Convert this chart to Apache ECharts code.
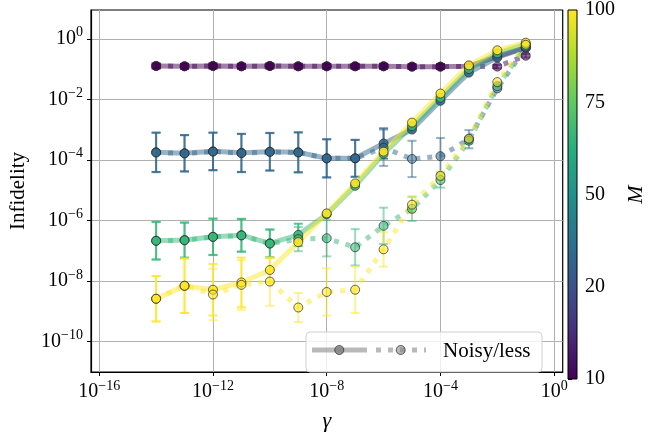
<!DOCTYPE html>
<html><head><meta charset="utf-8">
<script src="https://cdn.jsdelivr.net/npm/echarts@6/dist/echarts.min.js"></script>
<style>html,body{margin:0;padding:0;background:#fff}#c{width:648px;height:437px}</style>
</head><body><div id="c"></div>
<script>
// gamma values (exponents of 10)
const gammaExp = [-14,-13,-12,-11,-10,-9,-8,-7,-6,-5,-4,-3,-2,-1];
const xTicks = [-16,-12,-8,-4,0];
const yTicks = [-10,-8,-6,-4,-2,0];
const mLevels = [10,20,50,100];
const cbarTicks = [10,20,50,75,100];

// Infidelity, noisy (solid) and noiseless (dotted), per M
const noisyM10 = [0.126,0.123,0.126,0.123,0.126,0.123,0.123,0.123,0.123,0.120,0.120,0.123,0.263,0.513];
const lessM10  = [0.126,0.123,0.126,0.123,0.126,0.123,0.123,0.123,0.123,0.120,0.120,0.123,0.120,0.275];
const noisyM20 = [1.78e-4,1.66e-4,1.91e-4,1.70e-4,1.86e-4,1.78e-4,1.12e-4,1.12e-4,3.47e-4,1.0e-3,8.9e-3,7.6e-2,0.24,0.51];
const lessM20  = [1.74e-4,1.62e-4,1.86e-4,1.66e-4,1.82e-4,1.74e-4,1.12e-4,1.12e-4,2.5e-4,1.07e-4,1.32e-4,4.8e-4,2.3e-2,0.50];
const noisyM50 = [2.14e-7,2.24e-7,2.88e-7,3.24e-7,1.74e-7,3.31e-7,1.58e-6,1.38e-5,1.58e-4,1.29e-3,1.12e-2,0.10,0.33,0.66];
const lessM50  = [2.09e-7,2.19e-7,2.82e-7,3.16e-7,1.70e-7,2.40e-7,2.57e-7,1.29e-7,6.6e-7,2.4e-6,2.14e-5,4.27e-4,2.7e-2,0.56];
const noisyM100 = [2.57e-9,6.9e-9,5.1e-9,8.9e-9,2.29e-8,1.91e-7,1.70e-6,1.66e-5,1.86e-4,1.70e-3,1.55e-2,0.132,0.417,0.741];
const lessM100  = [2.57e-9,6.9e-9,3.55e-9,7.4e-9,9.5e-9,1.32e-9,4.3e-9,5.1e-9,1.10e-7,3.3e-6,2.95e-5,5.0e-4,3.7e-2,0.63];

// error bar half-widths in decades
const errNoisyM10 = [0.08,0.08,0.08,0.08,0.08,0.08,0.08,0.08,0.08,0.08,0.08,0.06,0,0];
const errLessM10  = [0.08,0.08,0.08,0.08,0.08,0.08,0.08,0.08,0.08,0.08,0.08,0.06,0.06,0.06];
const errNoisyM20 = [0.65,0.6,0.62,0.63,0.62,0.66,0.63,0.61,0.5,0,0,0,0,0];
const errLessM20  = [0.65,0.6,0.62,0.63,0.62,0.66,0.63,0.61,0.6,0.6,0.6,0.3,0,0];
const errNoisyM50 = [0.62,0.58,0.6,0.54,0.46,0.37,0,0,0,0,0,0,0,0];
const errLessM50  = [0.62,0.58,0.6,0.54,0.46,0.4,0.6,0.6,0.6,0.4,0.25,0.1,0,0];
const errNoisyM100 = [0.75,0.9,0.85,0.82,0.4,0,0,0,0,0,0,0,0,0];
const errLessM100  = [0.75,0.9,0.85,0.82,0.8,0.48,0.78,0.77,0.57,0.27,0.15,0,0,0];

const colorsM = ['#440154','#31688e','#35b779','#fde725'];
const viridis = ['#440154','#472d7b','#3b528b','#2c728e','#21918c','#28ae80','#5ec962','#addc30','#fde725'];

const FONT = 'Liberation Serif';
const groups = [
  [noisyM10, lessM10, errNoisyM10, errLessM10],
  [noisyM20, lessM20, errNoisyM20, errLessM20],
  [noisyM50, lessM50, errNoisyM50, errLessM50],
  [noisyM100, lessM100, errNoisyM100, errLessM100]
];

function hexA(hex, a){
  const r=parseInt(hex.slice(1,3),16),g=parseInt(hex.slice(3,5),16),b=parseInt(hex.slice(5,7),16);
  return 'rgba('+r+','+g+','+b+','+a+')';
}
function supLabel(v){
  const e = Math.round(v);
  return '{b|10}{s|' + (e<0 ? '\u2212'+(-e) : String(e)) + '}';
}
const rich = {
  b:{fontFamily:FONT,fontSize:20,color:'#000'},
  s:{fontFamily:FONT,fontSize:14,color:'#000',padding:[0,0,12,0]}
};

const series = [];
groups.forEach((g, gi) => {
  const col = colorsM[gi];
  [0,1].forEach(k => {
    const vals = g[k], errs = g[2+k];
    const dotted = k===1;
    const errData = gammaExp.map((x,i)=>[x, Math.log10(vals[i]), errs[i]]);
    series.push({
      type:'custom', xAxisIndex:0, yAxisIndex:0, silent:true,
      data: errData,
      renderItem: function(params, api){
        const e = api.value(2);
        if (!(e>0)) return null;
        const x = api.value(0), y = api.value(1);
        const p1 = api.coord([x, y+e]), p2 = api.coord([x, y-e]);
        const st = {stroke: hexA(col, dotted?0.5:0.8), lineWidth:2};
        return {type:'group', children:[
          {type:'line', shape:{x1:p1[0],y1:p1[1],x2:p2[0],y2:p2[1]}, style:st},
          {type:'line', shape:{x1:p1[0]-4.5,y1:p1[1],x2:p1[0]+4.5,y2:p1[1]}, style:st},
          {type:'line', shape:{x1:p2[0]-4.5,y1:p2[1],x2:p2[0]+4.5,y2:p2[1]}, style:st}
        ]};
      }
    });
    series.push({
      type:'line', xAxisIndex:0, yAxisIndex:0, silent:true,
      data: gammaExp.map((x,i)=>[x, Math.log10(vals[i])]),
      symbol:'circle', symbolSize:9, showSymbol:true,
      itemStyle:{color: hexA(col, dotted?0.55:0.9), borderColor:'rgba(40,40,40,0.7)', borderWidth:1},
      lineStyle:{color: hexA(col, 0.5), width:5, type: dotted?[5,7]:'solid', cap:'butt'},
      animation:false
    });
  });
});

// colorbar
series.push({
  type:'custom', xAxisIndex:1, yAxisIndex:1, silent:true,
  data:[[0,0,1,cbarTicks.length-1]],
  renderItem: function(params, api){
    const a = api.coord([api.value(0), api.value(1)]);
    const b = api.coord([api.value(2), api.value(3)]);
    return {type:'rect', shape:{x:a[0], y:b[1], width:b[0]-a[0], height:a[1]-b[1]},
      style:{fill: new echarts.graphic.LinearGradient(0,1,0,0, viridis.map((c,i)=>({offset:i/(viridis.length-1), color:c}))),
             stroke:'#000', lineWidth:1}};
  }
});

const option = {
  animation:false,
  grid:[
    {left:86.7, right:85.3, top:10, height:369, show:true, borderColor:'#000', borderWidth:1.2, backgroundColor:'transparent'},
    {left:568, width:15, top:10, height:369}
  ],
  xAxis:[
    {type:'value', gridIndex:0, min:-16.29, max:0.30,
     name:'\u03b3', nameLocation:'middle', nameGap:38,
     nameTextStyle:{fontFamily:FONT, fontSize:22, fontStyle:'italic', color:'#000'},
     axisLine:{show:true, onZero:false, lineStyle:{color:'#000', width:1.2}},
     axisTick:{show:true, inside:false, length:4, customValues:xTicks, lineStyle:{color:'#000'}},
     axisLabel:{customValues:xTicks, formatter:supLabel, rich:rich, margin:7},
     splitLine:{show:true, lineStyle:{color:'#b0b0b0', width:1}}},
    {type:'value', gridIndex:1, min:0, max:1, show:false}
  ],
  yAxis:[
    {type:'value', gridIndex:0, min:-11.01, max:0.95,
     name:'Infidelity', nameLocation:'middle', nameGap:62,
     nameTextStyle:{fontFamily:FONT, fontSize:21, color:'#000'},
     axisLine:{show:true, onZero:false, lineStyle:{color:'#000', width:1.2}},
     axisTick:{show:true, inside:false, length:4, customValues:yTicks, lineStyle:{color:'#000'}},
     axisLabel:{customValues:yTicks, formatter:supLabel, rich:rich, margin:8},
     splitLine:{show:true, lineStyle:{color:'#b0b0b0', width:1}}},
    {type:'value', gridIndex:1, min:0, max:cbarTicks.length-1, interval:1, position:'right',
     name:'M', nameLocation:'middle', nameGap:48, nameRotate:90,
     nameTextStyle:{fontFamily:FONT, fontSize:22, fontStyle:'italic', color:'#000'},
     axisLine:{show:false},
     axisTick:{show:true, inside:false, length:4, lineStyle:{color:'#000'}},
     axisLabel:{formatter:function(v){return String(cbarTicks[Math.round(v)]);}, fontFamily:FONT, fontSize:20, color:'#000', margin:8},
     splitLine:{show:false}}
  ],
  graphic:[
    {type:'group', children:[
      {type:'rect', shape:{x:306, y:332, width:236, height:40, r:4}, style:{fill:'rgba(255,255,255,0.8)', stroke:'#d0d0d0', lineWidth:1}, z:100},
      {type:'line', shape:{x1:312,y1:350,x2:367,y2:350}, style:{stroke:'rgba(128,128,128,0.55)', lineWidth:5}, z:101},
      {type:'circle', shape:{cx:339.3, cy:350, r:4.5}, style:{fill:'rgba(128,128,128,0.8)', stroke:'rgba(40,40,40,0.7)', lineWidth:1}, z:102},
      {type:'line', shape:{x1:376,y1:350,x2:426,y2:350}, style:{stroke:'rgba(128,128,128,0.55)', lineWidth:5, lineDash:[5,7]}, z:101},
      {type:'circle', shape:{cx:400.7, cy:350, r:4.5}, style:{fill:'rgba(128,128,128,0.55)', stroke:'rgba(40,40,40,0.7)', lineWidth:1}, z:102},
      {type:'text', x:443, y:351, style:{text:'Noisy/less', fontFamily:FONT, fontSize:21, fill:'#000', verticalAlign:'middle'}, z:102}
    ]}
  ],
  series: series
};
const chart = echarts.init(document.getElementById('c'), null, {renderer:'canvas'});
chart.setOption(option);
</script></body></html>
